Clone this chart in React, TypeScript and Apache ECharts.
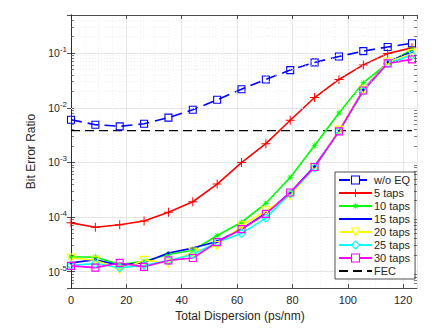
import React, { useEffect, useRef } from "react";
import * as echarts from "echarts";

const dispersion = [0, 8.8, 17.6, 26.4, 35.2, 44, 52.8, 61.6, 70.4, 79.2, 88, 96.8, 105.6, 114.4, 123.2];
const woEQ = [6.05e-3, 4.9e-3, 4.57e-3, 5.1e-3, 6.6e-3, 9.2e-3, 1.4e-2, 2.19e-2, 3.3e-2, 4.9e-2, 6.77e-2, 8.7e-2, 0.109, 0.13, 0.152];
const taps5 = [7.8e-5, 6.5e-5, 7.2e-5, 8.45e-5, 1.22e-4, 1.9e-4, 4.0e-4, 9.9e-4, 2.2e-3, 5.9e-3, 1.54e-2, 3.3e-2, 6.1e-2, 0.0986, 0.125];
const taps10 = [1.85e-5, 1.85e-5, 1.34e-5, 1.54e-5, 2.06e-5, 2.45e-5, 4.57e-5, 8.0e-5, 1.78e-4, 5.3e-4, 2.03e-3, 8.0e-3, 2.88e-2, 0.065, 0.117];
const taps15 = [1.44e-5, 1.65e-5, 1.3e-5, 1.46e-5, 2.18e-5, 2.69e-5, 3.55e-5, 6.0e-5, 1.17e-4, 2.8e-4, 8.5e-4, 3.7e-3, 2.13e-2, 0.069, 0.106];
const taps20 = [1.77e-5, 1.61e-5, 1.09e-5, 1.6e-5, 1.44e-5, 2.28e-5, 3.0e-5, 6.9e-5, 1.3e-4, 2.45e-4, 8.0e-4, 3.9e-3, 2.1e-2, 0.069, 0.098];
const taps25 = [1.3e-5, 1.4e-5, 1.18e-5, 1.3e-5, 1.6e-5, 2.06e-5, 3.46e-5, 5.0e-5, 9.5e-5, 2.7e-4, 7.9e-4, 3.7e-3, 2.0e-2, 0.065, 0.092];
const taps30 = [1.27e-5, 1.18e-5, 1.44e-5, 1.22e-5, 1.6e-5, 1.77e-5, 3.46e-5, 6.0e-5, 1.14e-4, 2.8e-4, 8.2e-4, 3.7e-3, 2.07e-2, 0.065, 0.077];
const fecLimit = 3.8e-3;
const seriesNames = ["w/o EQ", "5 taps", "10 taps", "15 taps", "20 taps", "25 taps", "30 taps", "FEC"];

const X_MIN = 0;
const X_MAX = 125;
const Y_MIN = 5e-6;
const Y_MAX = 0.5;

const FONT = "Liberation Sans";
const INK = "#262626";

function starPath(points: number, rOut: number, rIn: number) {
  const parts: string[] = [];
  for (let i = 0; i < points * 2; i++) {
    const r = i % 2 === 0 ? rOut : rIn;
    const a = (Math.PI * i) / points - Math.PI / 2;
    parts.push(`${i === 0 ? "M" : "L"}${(r * Math.cos(a)).toFixed(3)},${(r * Math.sin(a)).toFixed(3)}`);
  }
  return "path://" + parts.join("") + "Z";
}

const PLUS = "path://M-0.11,-1H0.11V-0.11H1V0.11H0.11V1H-0.11V0.11H-1V-0.11H-0.11Z";
const ASTERISK = starPath(8, 1, 0.32);
const DOT = "path://M-4,-4h0.001v0.001z M4,4h0.001v0.001z M-1,0a1,1 0 1,0 2,0a1,1 0 1,0 -2,0z";

const HOLLOW_COLORS: Record<string, string> = {
  "w/o EQ": "#0000ff",
  "20 taps": "#ffff00",
  "25 taps": "#00ffff",
  "30 taps": "#ff00ff",
};

function pairs(ys: number[]) {
  return dispersion.map((x, i) => [x, ys[i]]);
}

export default function App() {
  const ref = useRef<HTMLDivElement>(null);
  useEffect(() => {
    if (!ref.current) return;
    const chart = echarts.init(ref.current, undefined, { renderer: "svg" });

    const minorY: number[] = [];
    for (let k = -6; k <= -1; k++) {
      for (let m = 2; m <= 9; m++) {
        const v = m * Math.pow(10, k);
        if (v > Y_MIN && v < Y_MAX) minorY.push(v);
      }
    }
    const minorGrid = minorY.map((v) => ({ yAxis: v }));
    const tickLen = 1.1;
    const minorTicks: any[] = [];
    minorY.forEach((v) => {
      minorTicks.push([{ coord: [X_MIN, v] }, { coord: [X_MIN + tickLen, v] }]);
      minorTicks.push([{ coord: [X_MAX, v] }, { coord: [X_MAX - tickLen, v] }]);
    });

    const hollow = (c: string) => ({ color: "#ffffff00", borderColor: c, borderWidth: 1.1 });

    const mk = (name: string, ys: number[], color: string, symbol: string, size: number, extra: any = {}) => ({
      name,
      type: "line",
      data: pairs(ys),
      symbol,
      symbolSize: size,
      lineStyle: { color, width: 1.6 },
      itemStyle: { color },
      z: 3,
      ...extra,
    });

    const logLabel = (v: number) => {
      const e = Math.log10(v);
      const r = Math.round(e);
      if (Math.abs(e - r) > 1e-6) return "";
      return `10{sup|${r}}`;
    };

    const legendData = seriesNames.map((n) => {
      if (n === "FEC") return { name: n, itemStyle: { color: "#ffffff00", borderWidth: 0 } };
      if (HOLLOW_COLORS[n]) return { name: n, itemStyle: { color: "#ffffff", borderColor: HOLLOW_COLORS[n], borderWidth: 1.1 } };
      return { name: n };
    });

    chart.setOption({
      animation: false,
      textStyle: { fontFamily: FONT },
      grid: { left: 71, top: 15, right: 25, bottom: 43, containLabel: false },
      legend: {
        data: legendData,
        orient: "vertical",
        left: 335,
        top: 172,
        itemWidth: 33,
        itemHeight: 10,
        itemGap: 1,
        padding: [2, 5, 2, 3],
        backgroundColor: "#ffffff",
        borderColor: INK,
        borderWidth: 0.8,
        borderRadius: 0,
        textStyle: { fontFamily: FONT, fontSize: 11, color: INK, lineHeight: 12, padding: [0, 0, 0, -3] },
      },
      xAxis: [
        {
          type: "value",
          min: X_MIN,
          max: X_MAX,
          interval: 20,
          name: "Total Dispersion (ps/nm)",
          nameLocation: "middle",
          nameGap: 21,
          nameTextStyle: { fontFamily: FONT, fontSize: 12, color: INK, padding: [0, 8, 0, 0] },
          axisLine: { show: true, lineStyle: { color: INK, width: 0.8 } },
          axisTick: { show: true, inside: true, length: 4, lineStyle: { color: INK, width: 0.8 } },
          axisLabel: { fontFamily: FONT, fontSize: 11, color: INK, margin: 6, showMaxLabel: false },
          splitLine: { show: true, lineStyle: { color: "#dfdfdf", width: 0.8 } },
          minorTick: { show: false, splitNumber: 4 },
          minorSplitLine: { show: true, lineStyle: { color: "#e8e8e8", width: 0.6, type: [1, 2] } },
        },
        {
          type: "value",
          position: "top",
          min: X_MIN,
          max: X_MAX,
          interval: 20,
          axisLine: { show: true, lineStyle: { color: INK, width: 0.8 } },
          axisTick: { show: true, inside: true, length: 4, lineStyle: { color: INK, width: 0.8 } },
          axisLabel: { show: false },
          splitLine: { show: false },
        },
      ],
      yAxis: [
        {
          type: "log",
          logBase: 10,
          min: Y_MIN,
          max: Y_MAX,
          name: "Bit Error Ratio",
          nameLocation: "middle",
          nameGap: 27,
          nameTextStyle: { fontFamily: FONT, fontSize: 12, color: INK },
          axisLine: { show: true, lineStyle: { color: INK, width: 0.8 } },
          axisTick: { show: true, inside: true, length: 4, lineStyle: { color: INK, width: 0.8 } },
          axisLabel: {
            fontFamily: FONT,
            fontSize: 10.5,
            color: INK,
            margin: 4,
            showMinLabel: false,
            showMaxLabel: false,
            formatter: logLabel,
            rich: { sup: { fontSize: 8, verticalAlign: "top", padding: [0, 0, 7, 0], color: INK, fontFamily: FONT } },
          },
          splitLine: { show: true, lineStyle: { color: "#dfdfdf", width: 0.8 } },
        },
        {
          type: "log",
          logBase: 10,
          min: Y_MIN,
          max: Y_MAX,
          position: "right",
          axisLine: { show: true, lineStyle: { color: INK, width: 0.8 } },
          axisTick: { show: true, inside: true, length: 4, lineStyle: { color: INK, width: 0.8 } },
          axisLabel: { show: false },
          splitLine: { show: false },
        },
      ],
      series: [
        {
          name: "grid-minor",
          type: "line",
          data: [],
          silent: true,
          z: 1,
          markLine: {
            silent: true,
            symbol: ["none", "none"],
            label: { show: false },
            lineStyle: { color: "#e3e3e3", width: 0.6, type: [1, 2] },
            data: minorGrid,
          },
        },
        {
          name: "tick-minor",
          type: "line",
          data: [],
          silent: true,
          z: 4,
          markLine: {
            silent: true,
            symbol: ["none", "none"],
            label: { show: false },
            lineStyle: { color: INK, width: 0.6, type: "solid" },
            data: minorTicks,
          },
        },
        mk("w/o EQ", woEQ, "#0000ff", "rect", 7, {
          lineStyle: { color: "#0000ff", width: 1.6, type: [11, 6] },
          itemStyle: hollow("#0000ff"),
        }),
        mk("5 taps", taps5, "#ff0000", PLUS, 9),
        mk("10 taps", taps10, "#00ff00", ASTERISK, 8),
        mk("15 taps", taps15, "#0000ff", DOT, 12),
        mk("20 taps", taps20, "#ffff00", "triangle", 8, { symbolRotate: 180, itemStyle: hollow("#ffff00") }),
        mk("25 taps", taps25, "#00ffff", "diamond", 8, { itemStyle: hollow("#00ffff") }),
        mk("30 taps", taps30, "#ff00ff", "rect", 7, { itemStyle: hollow("#ff00ff") }),
        {
          name: "FEC",
          type: "line",
          data: [
            [dispersion[0], fecLimit],
            [dispersion[dispersion.length - 1], fecLimit],
          ],
          symbol: "none",
          lineStyle: { color: "#000000", width: 1.3, type: [9, 5] },
          itemStyle: { color: "#000000" },
          z: 2,
        },
      ],
    });
    return () => chart.dispose();
  }, []);
  return <div ref={ref} style={{ position: "absolute", left: 0, top: 0, width: 442, height: 331 }} />;
}
